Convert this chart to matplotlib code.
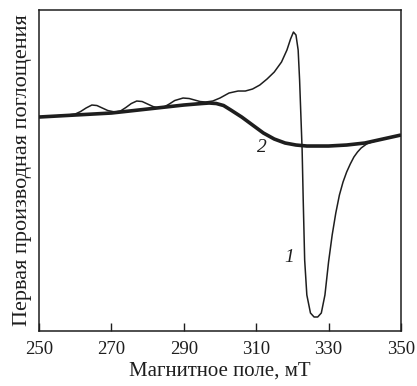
import matplotlib
matplotlib.use("Agg")
import matplotlib.pyplot as plt

plt.rcParams['font.family'] = ['Liberation Serif', 'DejaVu Serif']

# Curve 2 (thick): field (mT) and signal (arbitrary units)
field_2 = [250, 260, 270, 280, 290, 295, 297, 299, 301, 303, 306, 309, 312, 315, 318, 321, 324, 330, 335, 340, 345, 350]
signal_2 = [214, 216, 218, 222, 226, 227.5, 228, 227.5, 225.5, 221, 214, 206, 198, 192, 188, 186, 185, 185, 186, 188, 192, 196]

# Curve 1 (thin)
field_1 = [250, 258, 260, 261.5, 263, 264.6, 266, 267.5, 269, 271, 272.5, 274, 275.5, 277, 278.5,
           280, 281.5, 283, 284.5, 286, 287.5, 289.8, 291.5, 293, 294.5, 296, 298, 300, 302.5,
           305, 307, 309, 311, 313, 315, 317, 318.5, 319.5, 320.3, 321, 321.6, 322, 322.4, 322.7,
           323, 323.4, 324, 325, 326, 327, 328, 329, 330, 331, 332, 333, 334, 335, 336, 337, 338,
           339, 340.5, 342, 345, 350]
signal_1 = [214, 216, 217, 219.5, 223, 226, 225.5, 223, 220.5, 219, 220, 223.5, 227.5, 230, 229.5,
            227, 224.5, 223, 224, 227, 230.5, 233, 232.5, 231, 229.5, 229, 230, 233, 238,
            240, 240, 242, 246, 252, 259, 269, 281, 292, 299, 296, 281, 251, 211, 181,
            131, 71, 36, 18, 14, 14, 18, 36, 69, 96, 118, 136, 149, 159, 167, 174, 179,
            183, 187, 189, 192, 196]

tick_vals = [250, 270, 290, 310, 330, 350]
x_label = "Магнитное поле, мТ"
y_label = "Первая производная поглощения"

ink = "#1e1e1e"
fig = plt.figure(figsize=(4.17, 3.86), dpi=100)
ax = fig.add_axes([0.0935, 0.1425, 0.868, 0.8315])

ax.plot(field_2, signal_2, color=ink, lw=2.6, solid_capstyle='butt')
ax.plot(field_1, signal_1, color=ink, lw=1.1)

ax.set_xlim(250, 350)
ax.set_ylim(0, 321)
ax.set_xticks(tick_vals)
ax.set_yticks([])
ax.tick_params(axis='x', direction='in', length=6, width=1, pad=7, labelsize=13.5, colors=ink)
for s in ax.spines.values():
    s.set_linewidth(1.1)
    s.set_color(ink)

ax.set_xlabel(x_label, fontsize=15, color=ink, labelpad=3)
ax.set_ylabel(y_label, fontsize=16, color=ink, labelpad=5)

ax.text(319, 74, "1", fontsize=14, style='italic', color=ink, ha='center', va='center')
ax.text(311.5, 184, "2", fontsize=14, style='italic', color=ink, ha='center', va='center')

fig.savefig("out.png", dpi=100)
